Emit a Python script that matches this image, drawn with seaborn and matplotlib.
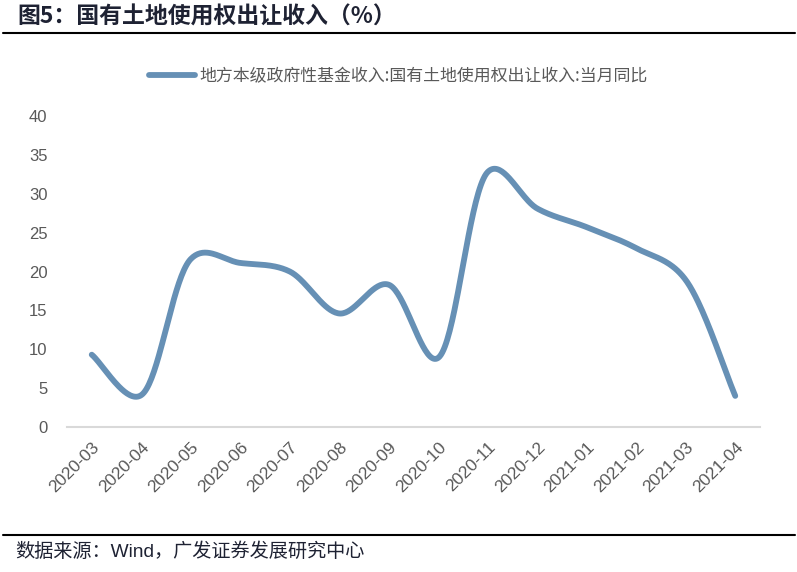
import numpy as np
import pandas as pd
import matplotlib
matplotlib.use("Agg")
import matplotlib.pyplot as plt
import seaborn as sns
from matplotlib.lines import Line2D

months = ["2020-03", "2020-04", "2020-05", "2020-06", "2020-07", "2020-08", "2020-09",
          "2020-10", "2020-11", "2020-12", "2021-01", "2021-02", "2021-03", "2021-04"]
values = [9.3, 4.1, 21.6, 21.1, 20.0, 14.6, 18.3, 8.9, 32.8, 28.1, 25.7, 23.0, 18.9, 4.0]
series_name = "地方本级政府性基金收入:国有土地使用权出让收入:当月同比"
title_text = "图5：国有土地使用权出让收入（%）"
source_text = "数据来源：Wind，广发证券发展研究中心"
yticks = [0, 5, 10, 15, 20, 25, 30, 35, 40]

sns.set_style("white")
plt.rcParams['font.family'] = ['Liberation Sans', 'Noto Sans CJK SC', 'DejaVu Sans']

LINE_COLOR = "#6690B5"
TEXT_GRAY = "#595959"

# axes geometry (pixels) used to smooth the line in screen space, like Excel
AX_L, AX_R, AX_T, AX_B = 67, 760, 116, 427
YMAX = 40


def smooth_catmull(y, n=40, alpha=0.2):
    """Catmull-Rom (Barry-Goldman form) through the points, in screen-proportional space."""
    y = np.asarray(y, float)
    sx = (AX_R - AX_L) / len(y)
    sy = (AX_B - AX_T) / YMAX
    P = np.column_stack([np.arange(len(y)) * sx, y * sy])
    start = P[0] - 0.3 * (P[1] - P[0])
    end = P[-1] + 0.3 * (P[-1] - P[-2])
    P = np.vstack([start, P, end])
    out = []
    for i in range(len(P) - 3):
        p0, p1, p2, p3 = P[i], P[i + 1], P[i + 2], P[i + 3]
        t0 = 0.0
        t1 = t0 + np.linalg.norm(p1 - p0) ** alpha
        t2 = t1 + np.linalg.norm(p2 - p1) ** alpha
        t3 = t2 + np.linalg.norm(p3 - p2) ** alpha
        t = np.linspace(t1, t2, n, endpoint=False)[:, None]
        a1 = (t1 - t) / (t1 - t0) * p0 + (t - t0) / (t1 - t0) * p1
        a2 = (t2 - t) / (t2 - t1) * p1 + (t - t1) / (t2 - t1) * p2
        a3 = (t3 - t) / (t3 - t2) * p2 + (t - t2) / (t3 - t2) * p3
        b1 = (t2 - t) / (t2 - t0) * a1 + (t - t0) / (t2 - t0) * a2
        b2 = (t3 - t) / (t3 - t1) * a2 + (t - t1) / (t3 - t1) * a3
        c = (t2 - t) / (t2 - t1) * b1 + (t - t1) / (t2 - t1) * b2
        out.append(c)
    out.append(P[-2][None, :])
    out = np.vstack(out)
    return out[:, 0] / sx, out[:, 1] / sy


cx, cy = smooth_catmull(values)
df = pd.DataFrame({"x": cx, "y": cy})

fig = plt.figure(figsize=(7.97, 5.72), dpi=100)
ax = fig.add_axes([AX_L / 797, 1 - AX_B / 572, (AX_R - AX_L) / 797, (AX_B - AX_T) / 572])

sns.lineplot(data=df, x="x", y="y", ax=ax, color=LINE_COLOR, linewidth=4.2,
             solid_capstyle="round", sort=False, estimator=None)

ax.set_xlim(-0.5, len(months) - 0.5)
ax.set_ylim(0, YMAX)
ax.set_yticks(yticks)
ax.set_yticklabels([str(v) for v in yticks], fontsize=12, color=TEXT_GRAY)
ax.set_xticks(range(len(months)))
ax.set_xticklabels(months, rotation=45, ha="right", rotation_mode="anchor",
                   fontsize=12.5, color=TEXT_GRAY)
ax.tick_params(axis="y", length=0, pad=14)
ax.tick_params(axis="x", length=0, pad=9)
ax.set_xlabel("")
ax.set_ylabel("")
for s in ["top", "right", "left"]:
    ax.spines[s].set_visible(False)
ax.spines["bottom"].set_color("#D9D9D9")
ax.spines["bottom"].set_linewidth(1.5)

handle = Line2D([0], [0], color=LINE_COLOR, linewidth=4.2, solid_capstyle="round")
fig.legend([handle], [series_name], loc="center", bbox_to_anchor=(0.5, 1 - 76 / 572),
           frameon=False, handlelength=2.7, handletextpad=0.3,
           prop={'family': ['Noto Sans CJK SC'], 'size': 12.2},
           labelcolor=TEXT_GRAY)

fig.text(17 / 797, 1 - 17 / 572, title_text, fontsize=16.5, fontweight="bold",
         color="#1E2233", va="center", ha="left", family=['Noto Sans CJK SC'])
fig.add_artist(Line2D([3 / 797, 795 / 797], [1 - 33 / 572, 1 - 33 / 572],
                      color="black", linewidth=1.5, transform=fig.transFigure))
fig.add_artist(Line2D([3 / 797, 795 / 797], [1 - 535 / 572, 1 - 535 / 572],
                      color="black", linewidth=1.5, transform=fig.transFigure))
fig.text(15 / 797, 1 - 552 / 572, source_text, fontsize=13.8, color="#1E2233",
         va="center", ha="left", family=['Liberation Sans', 'Noto Sans CJK SC'])

fig.savefig("out.png", dpi=100)
